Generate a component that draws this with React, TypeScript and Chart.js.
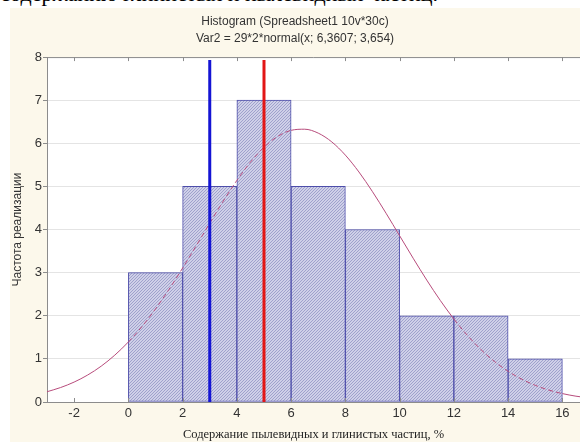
import React, { useEffect, useRef } from "react";
import { Chart, registerables } from "chart.js";

Chart.register(...registerables);

// ---- data ----
const binCenters = [1, 3, 5, 7, 9, 11, 13, 15];
const binCounts = [3, 5, 7, 5, 4, 2, 2, 1];
const binWidth = 2;
const xTickValues = [-2, 0, 2, 4, 6, 8, 10, 12, 14, 16];
const yTickValues = [0, 1, 2, 3, 4, 5, 6, 7, 8];
const curveX = [-3, -2.5, -2, -1.5, -1, -0.5, 0, 0.5, 1, 1.5, 2, 2.5, 3, 3.5, 4, 4.5, 5, 5.5, 6, 6.5, 7, 7.5, 8, 8.5, 9, 9.5, 10, 10.5, 11, 11.5, 12, 12.5, 13, 13.5, 14, 14.5, 15, 15.5, 16, 16.5, 17];
const curveY = [0.238, 0.335, 0.462, 0.626, 0.832, 1.087, 1.392, 1.749, 2.159, 2.614, 3.107, 3.623, 4.148, 4.661, 5.139, 5.562, 5.908, 6.159, 6.301, 6.327, 6.236, 6.032, 5.726, 5.335, 4.878, 4.378, 3.856, 3.334, 2.828, 2.355, 1.925, 1.544, 1.215, 0.939, 0.712, 0.530, 0.387, 0.277, 0.195, 0.135, 0.091];
const blueLineX = 3;
const redLineX = 5;
const markerTop = 7.93;
const titleLines = ["Histogram (Spreadsheet1 10v*30c)", "Var2 = 29*2*normal(x; 6,3607; 3,654)"];
const xTitle = "Содержание пылевидных и глинистых частиц, %";
const yTitle = "Частота реализации";
const topText = "по содержанию глинистых и пылевидных частиц.";

function makePattern(): CanvasPattern | string {
  const c = document.createElement("canvas");
  c.width = 3;
  c.height = 3;
  const p = c.getContext("2d");
  if (!p) return "#b8bad9";
  p.fillStyle = "#cfd0e8";
  p.fillRect(0, 0, 3, 3);
  p.fillStyle = "#9fa1cc";
  // diagonal "/" pixels
  p.fillRect(2, 0, 1, 1);
  p.fillRect(1, 1, 1, 1);
  p.fillRect(0, 2, 1, 1);
  return p.createPattern(c, "repeat") || "#b8bad9";
}

const framePlugin = {
  id: "frame",
  beforeDraw(chart: any) {
    const { ctx, chartArea: a } = chart;
    ctx.save();
    ctx.fillStyle = "#ffffff";
    ctx.fillRect(a.left, a.top, a.right - a.left, a.bottom - a.top);
    ctx.restore();
  },
  afterDatasetsDraw(chart: any) {
    const { ctx, chartArea: a, scales } = chart;
    const xs = scales.x;
    ctx.save();
    ctx.strokeStyle = "#8c8c8c";
    ctx.lineWidth = 1;
    ctx.beginPath();
    ctx.moveTo(a.left, a.top + 0.5);
    ctx.lineTo(a.right, a.top + 0.5);
    for (const v of xTickValues) {
      const px = Math.round(xs.getPixelForValue(v)) + 0.5;
      ctx.moveTo(px, a.top);
      ctx.lineTo(px, a.top + 4);
      ctx.moveTo(px, a.bottom);
      ctx.lineTo(px, a.bottom - 4);
    }
    ctx.stroke();
    ctx.restore();
  },
};

export default function App() {
  const ref = useRef<HTMLCanvasElement | null>(null);
  useEffect(() => {
    if (!ref.current) return;
    const pattern = makePattern();
    const insideBar = (x: number, y: number) => {
      for (let i = 0; i < binCenters.length; i++) {
        if (x >= binCenters[i] - binWidth / 2 && x < binCenters[i] + binWidth / 2) return y < binCounts[i];
      }
      return false;
    };
    const chart = new Chart(ref.current, {
      type: "bar",
      data: {
        datasets: [
          {
            type: "line",
            data: [{ x: blueLineX, y: 0 }, { x: blueLineX, y: markerTop }],
            borderColor: "#1414d4",
            borderWidth: 3,
            pointRadius: 0,
            order: 0,
          } as any,
          {
            type: "line",
            data: [{ x: redLineX, y: 0 }, { x: redLineX, y: markerTop }],
            borderColor: "#e21616",
            borderWidth: 3,
            pointRadius: 0,
            order: 0,
          } as any,
          {
            type: "line",
            data: curveX.map((x, i) => ({ x, y: curveY[i] })),
            borderColor: "#b84c7c",
            borderWidth: 1,
            pointRadius: 0,
            cubicInterpolationMode: "monotone",
            order: 1,
            segment: {
              borderDash: (ctx: any) => {
                const mx = (ctx.p0.parsed.x + ctx.p1.parsed.x) / 2;
                const my = (ctx.p0.parsed.y + ctx.p1.parsed.y) / 2;
                return insideBar(mx, my) ? [5, 3] : undefined;
              },
            },
          } as any,
          {
            type: "bar",
            data: binCenters.map((x, i) => ({ x, y: binCounts[i] })),
            backgroundColor: pattern,
            borderColor: "#4d4daa",
            borderWidth: 1,
            borderSkipped: false,
            barPercentage: 1,
            categoryPercentage: 1,
            order: 2,
          } as any,
        ],
      },
      options: {
        animation: false,
        responsive: false,
        maintainAspectRatio: false,
        layout: { padding: { left: 0, right: 0, top: 0, bottom: 0 } },
        plugins: {
          legend: { display: false },
          tooltip: { enabled: false },
          title: {
            display: true,
            text: titleLines,
            color: "#333333",
            font: { family: "'Liberation Sans', Arial, sans-serif", size: 12, weight: "normal", lineHeight: 1.42 },
            padding: { top: 5, bottom: 10 },
          },
        },
        scales: {
          x: {
            type: "linear",
            offset: false,
            min: -3,
            max: 16.65,
            afterBuildTicks: (scale: any) => {
              scale.ticks = xTickValues.map((v) => ({ value: v }));
            },
            afterFit: (scale: any) => {
              scale.height = 40;
            },
            grid: { display: false, drawTicks: false, offset: false },
            border: { display: true, color: "#8c8c8c" },
            ticks: {
              color: "#333333",
              padding: 4,
              maxRotation: 0,
              autoSkip: false,
              font: { family: "'Liberation Sans', Arial, sans-serif", size: 13 },
            },
            title: {
              display: true,
              text: xTitle,
              color: "#222222",
              padding: { top: 5, bottom: 0 },
              font: { family: "'Liberation Serif', 'Times New Roman', serif", size: 12.5 },
            },
          },
          y: {
            type: "linear",
            min: 0,
            max: 8,
            afterBuildTicks: (scale: any) => {
              scale.ticks = yTickValues.map((v) => ({ value: v }));
            },
            afterFit: (scale: any) => {
              scale.width = 37;
            },
            grid: { color: "#e4e4e4", tickColor: "#8c8c8c", tickLength: 4, drawTicks: true },
            border: { display: true, color: "#8c8c8c" },
            ticks: {
              color: "#333333",
              padding: 1,
              font: { family: "'Liberation Sans', Arial, sans-serif", size: 13 },
            },
            title: {
              display: true,
              text: yTitle,
              color: "#333333",
              padding: { top: 0, bottom: 0 },
              font: { family: "'Liberation Sans', Arial, sans-serif", size: 12 },
            },
          },
        },
      },
      plugins: [framePlugin],
    } as any);
    return () => chart.destroy();
  }, []);

  return (
    <div style={{ position: "fixed", left: 0, top: 0, width: 580, height: 442, overflow: "hidden", background: "#ffffff" }}>
      <div
        style={{
          position: "absolute",
          right: 142,
          top: -17,
          whiteSpace: "nowrap",
          fontFamily: "'Liberation Serif', 'Times New Roman', serif",
          fontSize: 22,
          lineHeight: "22px",
          color: "#000",
        }}
      >
        {topText}
      </div>
      <div style={{ position: "absolute", left: 10, top: 8, width: 570, height: 434, background: "#fcf8eb" }}>
        <canvas ref={ref} width={570} height={434} style={{ display: "block", width: 570, height: 434 }} />
      </div>
    </div>
  );
}
